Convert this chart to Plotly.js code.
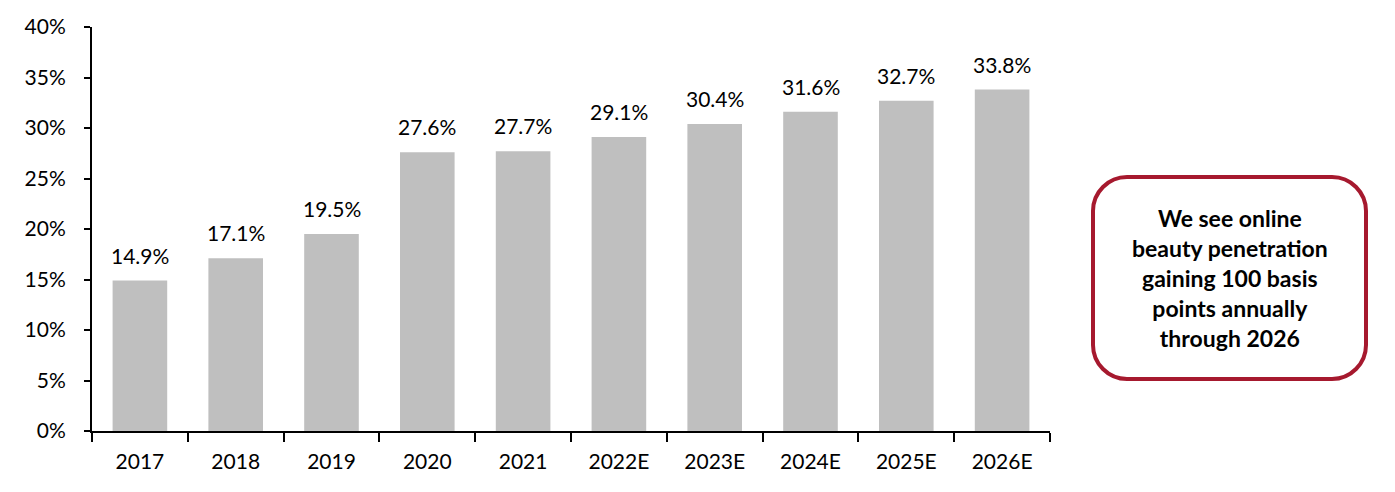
<!DOCTYPE html>
<html>
<head>
<meta charset="utf-8">
<script src="https://cdn.plot.ly/plotly-3.0.1.min.js"></script>
<style>html,body{margin:0;padding:0;background:#fff;}#chart{width:1395px;height:492px;}</style>
</head>
<body>
<div id="chart"></div>
<script>
const years = ['2017','2018','2019','2020','2021','2022E','2023E','2024E','2025E','2026E'];
const penetration = [14.9, 17.1, 19.5, 27.6, 27.7, 29.1, 30.4, 31.6, 32.7, 33.8];
const yTicks = [0,5,10,15,20,25,30,35,40];
const calloutText = 'We see online<br>beauty penetration<br>gaining 100 basis<br>points annually<br>through 2026';

const W = 1395, H = 492;
const L = 92, R = 1050, T = 27, B = 431;
function px(x){ return (x - L) / (R - L); }
function py(y){ return (B - y) / (B - T); }
function roundRect(x0, y0, x1, y1, r){
  const k = 0.45;
  const p = [];
  p.push('M' + px(x0 + r) + ',' + py(y0));
  p.push('L' + px(x1 - r) + ',' + py(y0));
  p.push('C' + px(x1 - r*k) + ',' + py(y0) + ' ' + px(x1) + ',' + py(y0 + r*k) + ' ' + px(x1) + ',' + py(y0 + r));
  p.push('L' + px(x1) + ',' + py(y1 - r));
  p.push('C' + px(x1) + ',' + py(y1 - r*k) + ' ' + px(x1 - r*k) + ',' + py(y1) + ' ' + px(x1 - r) + ',' + py(y1));
  p.push('L' + px(x0 + r) + ',' + py(y1));
  p.push('C' + px(x0 + r*k) + ',' + py(y1) + ' ' + px(x0) + ',' + py(y1 - r*k) + ' ' + px(x0) + ',' + py(y1 - r));
  p.push('L' + px(x0) + ',' + py(y0 + r));
  p.push('C' + px(x0) + ',' + py(y0 + r*k) + ' ' + px(x0 + r*k) + ',' + py(y0) + ' ' + px(x0 + r) + ',' + py(y0));
  p.push('Z');
  return p.join(' ');
}

const font = 'Lato, "Open Sans", "DejaVu Sans", sans-serif';

const trace = {
  type: 'bar',
  x: years,
  y: penetration,
  marker: {color: '#BFBFBF'},
  hoverinfo: 'skip'
};

const labelAnns = years.map((yr, i) => ({
  xref: 'x', yref: 'y',
  x: i, y: penetration[i],
  text: penetration[i].toFixed(1) + '%',
  showarrow: false,
  xanchor: 'center', yanchor: 'bottom',
  yshift: 11,
  font: {family: font, size: 21, color: '#000'}
}));

const layout = {
  width: W, height: H,
  margin: {l: L, r: W - R, t: T, b: H - B, pad: 0},
  paper_bgcolor: '#fff',
  plot_bgcolor: '#fff',
  showlegend: false,
  bargap: 0.43,
  font: {family: font, size: 21, color: '#000'},
  xaxis: {
    type: 'category',
    categoryorder: 'array', categoryarray: years,
    range: [-0.5, years.length - 0.5],
    showline: true, linecolor: '#000', linewidth: 2,
    ticks: 'outside', tickson: 'boundaries', ticklen: 9, tickwidth: 2, tickcolor: '#000',
    showgrid: false, zeroline: false,
    tickangle: 0,
    tickfont: {family: font, size: 21, color: '#000'},
    ticklabelstandoff: 11
  },
  yaxis: {
    range: [0, 40],
    tickvals: yTicks,
    ticktext: yTicks.map(v => v + '%'),
    showline: true, linecolor: '#000', linewidth: 2,
    ticks: 'outside', ticklen: 6, tickwidth: 2, tickcolor: '#000',
    showgrid: false, zeroline: false,
    tickfont: {family: font, size: 21, color: '#000'},
    ticklabelstandoff: 14
  },
  shapes: [{
    type: 'path', xref: 'paper', yref: 'paper',
    path: roundRect(1093, 177, 1366, 379, 34),
    line: {color: '#A6192E', width: 4},
    fillcolor: '#fff'
  }],
  annotations: labelAnns.concat([{
    xref: 'paper', yref: 'paper',
    x: px(1230), y: py(278),
    xanchor: 'center', yanchor: 'middle',
    text: '<b>' + calloutText + '</b>',
    showarrow: false,
    align: 'center',
    font: {family: font, size: 23, color: '#000'}
  }])
};

Plotly.newPlot('chart', [trace], layout, {staticPlot: true, displayModeBar: false});
</script>
</body>
</html>
